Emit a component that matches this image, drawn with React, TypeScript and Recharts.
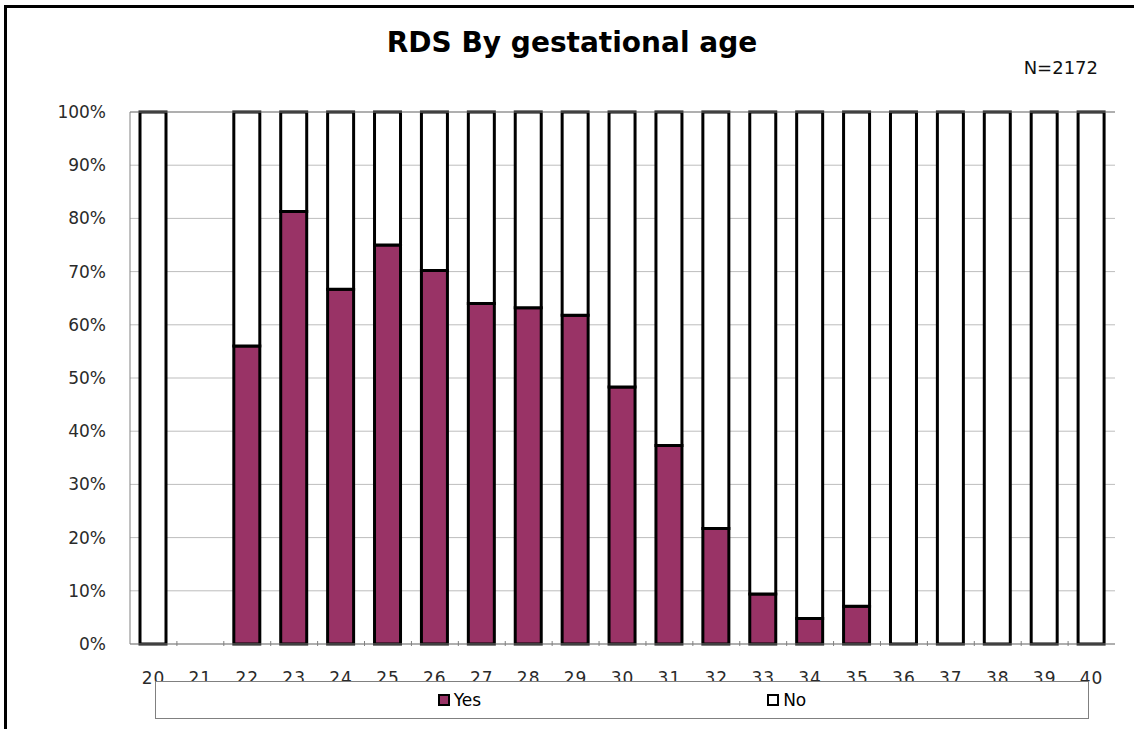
import React from "react";
import { BarChart, Bar, XAxis, YAxis, CartesianGrid, ReferenceLine } from "recharts";

// gestational age in weeks
const ages = ["20", "21", "22", "23", "24", "25", "26", "27", "28", "29", "30", "31", "32", "33", "34", "35", "36", "37", "38", "39", "40"];
// % of babies with RDS (null = no babies at that age)
const yesPct = [0, null, 56, 81.3, 66.7, 75, 70.2, 64, 63.2, 61.8, 48.3, 37.3, 21.7, 9.4, 4.8, 7.1, 0, 0, 0, 0, 0];
const noPct = [100, null, 44, 18.7, 33.3, 25, 29.8, 36, 36.8, 38.2, 51.7, 62.7, 78.3, 90.6, 95.2, 92.9, 100, 100, 100, 100, 100];
const pctTicks = [0, 10, 20, 30, 40, 50, 60, 70, 80, 90, 100];

const seriesNames = ["Yes", "No"];
const sampleLabel = "N=2172";
const chartTitle = "RDS By gestational age";

const data = ages.map((age, i) => ({ age, yes: yesPct[i], no: noPct[i] }));

const W = 1134;
const H = 729;
const PLUM = "#993366";
const AXIS_GRAY = "#808080";
const FONT = "'DejaVu Sans', sans-serif";

function AgeTick(props: any) {
  const { x, y, payload, index, width, visibleTicksCount } = props;
  const half = payload && payload.offset ? payload.offset : width / (visibleTicksCount || ages.length) / 2;
  return (
    <g>
      {index > 0 && <line x1={x - half} x2={x - half} y1={y} y2={y - 5} stroke={AXIS_GRAY} strokeWidth={1} />}
      <text x={x} y={y + 38} textAnchor="middle" fontFamily={FONT} fontSize={17} letterSpacing={1} fill="#2a2a2a">
        {payload.value}
      </text>
    </g>
  );
}

export default function App() {
  return (
    <div style={{ position: "fixed", left: 0, top: 0, width: W, height: H, overflow: "hidden", background: "#fff" }}>
      <div style={{ position: "absolute", left: 4, top: 5, width: 1400, height: 1000, border: "3px solid #000" }} />
      <div style={{ position: "absolute", left: 0, top: 0 }}>
        <BarChart width={W} height={H} data={data} margin={{ top: 112, right: 19, left: 70, bottom: 45 }} barSize={26}>
          <CartesianGrid vertical={false} stroke="#bdbdbd" strokeWidth={1} />
          <XAxis
            dataKey="age"
            interval={0}
            height={40}
            axisLine={{ stroke: AXIS_GRAY }}
            tickLine={false}
            tickSize={0}
            tick={AgeTick}
          />
          <YAxis
            width={60}
            domain={[0, 100]}
            ticks={pctTicks}
            tickFormatter={(v) => `${v}%`}
            axisLine={{ stroke: AXIS_GRAY }}
            tickLine={false}
            tickSize={0}
            tickMargin={24}
            tick={{ fontFamily: FONT, fontSize: 17, fill: "#2a2a2a" }}
          />
          <YAxis yAxisId="r" orientation="right" width={0} domain={[0, 100]} tick={false} tickLine={false} axisLine={{ stroke: AXIS_GRAY }} />
          <ReferenceLine y={100} stroke={AXIS_GRAY} />
          <Bar dataKey="yes" stackId="a" name={seriesNames[0]} fill={PLUM} stroke="#000" strokeWidth={3} isAnimationActive={false} />
          <Bar dataKey="no" stackId="a" name={seriesNames[1]} fill="#fff" stroke="#000" strokeWidth={3} isAnimationActive={false} />
        </BarChart>
      </div>
      <div
        style={{
          position: "absolute",
          left: 5,
          top: 29,
          width: W,
          textAlign: "center",
          fontFamily: FONT,
          fontWeight: "bold",
          fontSize: 28,
          lineHeight: "28px",
          color: "#000",
        }}
      >
        {chartTitle}
      </div>
      <div style={{ position: "absolute", right: 36, top: 59, fontFamily: FONT, fontSize: 18, lineHeight: "18px", color: "#111" }}>
        {sampleLabel}
      </div>
      <div
        style={{
          position: "absolute",
          left: 155,
          top: 681,
          width: 932,
          height: 36,
          border: `1px solid ${AXIS_GRAY}`,
          background: "#fff",
          display: "flex",
          alignItems: "center",
          justifyContent: "center",
          gap: 286,
          fontFamily: FONT,
          fontSize: 17,
          color: "#000",
        }}
      >
        {seriesNames.map((name, i) => (
          <div key={name} style={{ display: "flex", alignItems: "center" }}>
            <span
              style={{
                display: "inline-block",
                width: 8,
                height: 8,
                border: "2px solid #000",
                background: i === 0 ? PLUM : "#fff",
                marginRight: 4,
              }}
            />
            <span>{name}</span>
          </div>
        ))}
      </div>
    </div>
  );
}
